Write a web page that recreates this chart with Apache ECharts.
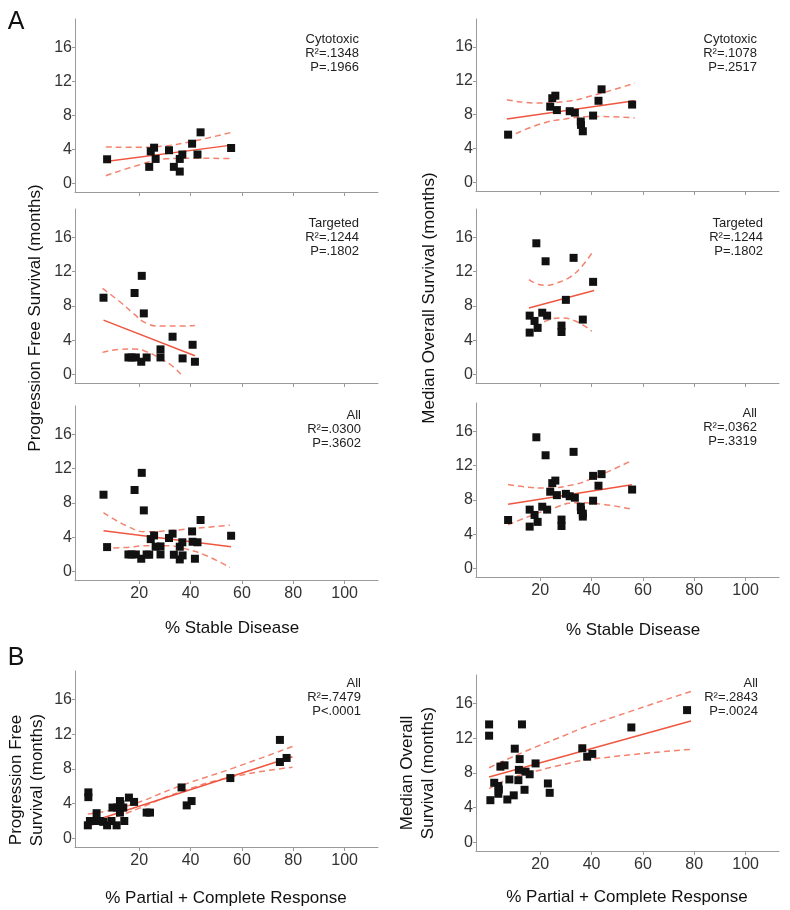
<!DOCTYPE html>
<html>
<head>
<meta charset="utf-8">
<script src="https://cdn.jsdelivr.net/npm/echarts@6/dist/echarts.min.js"></script>
<style>
  html, body { margin: 0; background: #fff; }
  #main { width: 790px; height: 910px; }
</style>
</head>
<body>
<div id="main"></div>
<script>
// points: [x %, y months]
const pfsCytotoxic = [[7.5,2.84],[23.9,1.95],[24.5,3.77],[25.8,4.2],[26.4,2.88],[31.6,3.9],[33.5,1.95],[35.8,1.4],[35.8,2.88],[36.8,3.4],[40.6,4.67],[42.7,3.4],[43.9,6.0],[55.8,4.16]];
const pfsTargeted = [[6.1,8.95],[15.8,1.98],[17.0,1.98],[18.2,9.5],[18.7,1.98],[20.8,1.48],[21.0,11.5],[21.8,7.12],[22.9,1.98],[28.3,2.92],[28.3,1.98],[33.0,4.4],[36.9,1.87],[40.8,3.46],[41.7,1.48]];
const osCytotoxic = [[7.5,5.65],[23.9,8.95],[24.7,9.95],[25.9,10.25],[26.5,8.55],[31.5,8.42],[33.5,8.25],[35.8,7.2],[35.9,6.8],[36.6,6.05],[40.6,7.9],[42.7,9.65],[43.9,11.0],[55.8,9.2]];
const osTargeted = [[15.9,6.86],[15.9,4.88],[17.8,6.24],[18.5,15.3],[19.0,5.43],[20.8,7.2],[22.1,13.2],[22.7,6.86],[28.3,5.7],[28.3,4.95],[30.0,8.7],[33.0,13.6],[36.6,6.4],[40.6,10.8]];
const pfsResponse = [[0.2,5.3],[0.2,4.75],[0,1.5],[0.8,2.0],[2.7,2.0],[3.4,2.9],[4.7,2.0],[6.0,1.9],[7.5,1.5],[9.2,2.0],[9.6,3.55],[11.2,1.5],[11.4,3.55],[12.5,4.3],[12.5,2.97],[12.7,3.94],[13.8,3.55],[14.2,2.0],[16.0,4.7],[18.0,4.2],[22.9,2.97],[24.2,2.97],[36.5,5.87],[38.5,3.8],[40.4,4.3],[55.5,6.95],[74.8,11.35],[74.8,8.8],[77.4,9.27]];
const osResponse = [[0.1,13.6],[0.1,12.3],[0.6,4.86],[2.1,6.87],[3.7,6.5],[3.9,6.1],[3.7,5.6],[4.5,8.73],[6.1,8.88],[7.2,4.94],[8.0,7.25],[9.7,5.42],[10.1,10.8],[12.0,9.6],[11.7,8.36],[11.5,7.17],[12.9,13.6],[13.9,6.06],[14.3,8.15],[15.9,7.85],[18.2,9.1],[23.0,6.79],[23.7,5.71],[36.4,10.85],[38.3,9.88],[40.3,10.2],[55.5,13.25],[77.2,15.25]];

// regression lines and 95% bands
const pfsCytoFit = [[7,2.57],[56,4.5]];
const pfsCytoUp = [[7,4.28],[20,4.24],[30,4.4],[40,4.9],[56,6.0]];
const pfsCytoLo = [[7,0.9],[20,2.18],[30.6,2.9],[40,2.96],[56,2.92]];
const osCytoFit = [[7,7.5],[56.8,9.65]];
const osCytoUp = [[7,9.77],[19.4,9.38],[29.7,9.57],[41.4,10.35],[56.8,11.72]];
const osCytoLo = [[7,5.27],[19.4,6.84],[29.7,7.5],[41.4,7.8],[56.8,7.62]];
const pfsTargFit = [[6.1,6.34],[41.7,2.18]];
const pfsTargUp = [[5.7,10.04],[12.5,8.48],[17.7,7.12],[22.9,5.95],[28.1,5.64],[35.8,5.64],[41.7,5.72]];
const pfsTargLo = [[5.7,2.57],[12.5,2.92],[17.7,2.96],[22.9,2.65],[28.1,1.87],[33.2,0.9],[36.5,-0.08]];
const osTargFit = [[15.6,7.75],[41,9.8]];
const osTargUp = [[15.6,11.05],[18.6,10.58],[22.5,10.39],[26.4,10.66],[31.6,11.36],[36.2,12.6],[40.1,14.15]];
const osTargLo = [[15.6,4.65],[19.9,5.81],[23.8,6.4],[27.7,6.59],[32.9,6.32],[40.1,5.04]];
const pfsAllFit = [[6.1,4.74],[55.8,2.87]];
const pfsAllUp = [[6.1,6.87],[15.1,5.32],[22.9,4.62],[30.6,4.74],[38.4,4.93],[55.3,5.4]];
const pfsAllLo = [[6.1,2.68],[15.1,2.8],[22.9,3.0],[30.6,3.0],[38.4,2.6],[46.2,1.83],[55.3,0.47]];
const osAllFit = [[7.5,7.48],[55.7,9.77]];
const osAllUp = [[7.5,9.8],[13.5,9.53],[22.6,9.38],[31.6,9.69],[39.4,10.39],[55.7,12.6]];
const osAllLo = [[7.5,5.08],[16.1,6.12],[23.9,6.9],[34.2,7.67],[44.5,7.48],[55.7,6.9]];
const pfsRespFit = [[0,1.8],[79.7,9.4]];
const pfsRespUp = [[0,2.8],[15,3.7],[36.5,6.1],[56.6,8.1],[79.7,10.6]];
const pfsRespLo = [[0,1.4],[15,2.9],[36.5,5.4],[56.6,7.1],[79.7,8.2]];
const osRespFit = [[0.1,7.53],[78.7,14.0]];
const osRespUp = [[0.1,8.6],[7.1,9.57],[16.1,10.73],[26.5,11.97],[39.4,13.5],[78.7,17.4]];
const osRespLo = [[0.1,6.18],[7.1,7.26],[16.1,8.03],[26.5,8.8],[39.4,9.57],[78.7,10.73]];

const xTicks = [20, 40, 60, 80, 100];
const yTicks = [0, 4, 8, 12, 16];

const FONT = '"Liberation Sans", Arial, sans-serif';
const fitColor = '#ef5640';
const bandColor = '#f3836f';
const axisColor = '#9a9a9a';

const panels = [
  { pts: pfsCytotoxic, fit: pfsCytoFit, up: pfsCytoUp, lo: pfsCytoLo, note: ['Cytotoxic', 'R²=.1348', 'P=.1966'], nx: 359, ny: 39, left: 75, top: 19, h: 173, xl: false },
  { pts: osCytotoxic, fit: osCytoFit, up: osCytoUp, lo: osCytoLo, note: ['Cytotoxic', 'R²=.1078', 'P=.2517'], nx: 757, ny: 39, left: 476, top: 19, h: 172, xl: false },
  { pts: pfsTargeted, fit: pfsTargFit, up: pfsTargUp, lo: pfsTargLo, note: ['Targeted', 'R²=.1244', 'P=.1802'], nx: 359, ny: 223, left: 75, top: 209, h: 174, xl: false },
  { pts: osTargeted, fit: osTargFit, up: osTargUp, lo: osTargLo, note: ['Targeted', 'R²=.1244', 'P=.1802'], nx: 763, ny: 223, left: 476, top: 209, h: 174, xl: false },
  { pts: pfsCytotoxic.concat(pfsTargeted), fit: pfsAllFit, up: pfsAllUp, lo: pfsAllLo, note: ['All', 'R²=.0300', 'P=.3602'], nx: 361, ny: 415, left: 75, top: 406, h: 174, xl: true },
  { pts: osCytotoxic.concat(osTargeted), fit: osAllFit, up: osAllUp, lo: osAllLo, note: ['All', 'R²=.0362', 'P=.3319'], nx: 757, ny: 413, left: 476, top: 403, h: 174, xl: true },
  { pts: pfsResponse, fit: pfsRespFit, up: pfsRespUp, lo: pfsRespLo, note: ['All', 'R²=.7479', 'P<.0001'], nx: 361, ny: 683, left: 75, top: 671, h: 176, xl: true },
  { pts: osResponse, fit: osRespFit, up: osRespUp, lo: osRespLo, note: ['All', 'R²=.2843', 'P=.0024'], nx: 758, ny: 683, left: 476, top: 675, h: 176, xl: true }
];

const grid = [], xAxis = [], yAxis = [], series = [], graphic = [];

panels.forEach(function (p, i) {
  grid.push({ left: p.left, top: p.top, width: 303, height: p.h });
  xAxis.push({
    gridIndex: i, type: 'value', min: -5, max: 113,
    axisLine: { onZero: false, lineStyle: { color: axisColor } },
    axisTick: { customValues: xTicks, length: 4, lineStyle: { color: axisColor } },
    axisLabel: { show: p.xl, customValues: xTicks, fontSize: 16, color: '#333', fontFamily: FONT, margin: 6 },
    splitLine: { show: false }
  });
  yAxis.push({
    gridIndex: i, type: 'value', min: -1, max: 19.3,
    axisLine: { show: true, onZero: false, lineStyle: { color: axisColor } },
    axisTick: { show: true, customValues: yTicks, length: 3, lineStyle: { color: axisColor } },
    axisLabel: { customValues: yTicks, fontSize: 16, color: '#333', fontFamily: FONT, margin: 3 },
    splitLine: { show: false }
  });
  const band = function (d) {
    return {
      type: 'line', xAxisIndex: i, yAxisIndex: i, data: d, smooth: true, symbol: 'none',
      lineStyle: { color: bandColor, width: 1.5, type: [6, 4] }, z: 2
    };
  };
  series.push(band(p.up), band(p.lo));
  series.push({
    type: 'line', xAxisIndex: i, yAxisIndex: i, data: p.fit, symbol: 'none',
    lineStyle: { color: fitColor, width: 1.5 }, z: 2
  });
  series.push({
    type: 'scatter', xAxisIndex: i, yAxisIndex: i, data: p.pts, symbol: 'rect', symbolSize: 8,
    itemStyle: { color: '#111', opacity: 1 }, z: 3
  });
  graphic.push({
    type: 'text', left: null, x: p.nx, y: p.ny - 7,
    style: { text: p.note.join('\n'), textAlign: 'right', textVerticalAlign: 'top', fontSize: 13, lineHeight: 14, fill: '#222', fontFamily: FONT }
  });
});

function label(text, x, y, size, rot) {
  return {
    type: 'text', x: x, y: y, rotation: rot || 0,
    style: { text: text, textAlign: 'center', textVerticalAlign: 'middle', fontSize: size, lineHeight: 21, fill: '#111', fontFamily: FONT }
  };
}

graphic.push(
  label('A', 16, 22, 25),
  label('B', 16, 658, 25),
  label('Progression Free Survival (months)', 35, 318, 17, Math.PI / 2),
  label('Median Overall Survival (months)', 429, 298, 17, Math.PI / 2),
  label('Progression Free\nSurvival (months)', 27, 780, 17, Math.PI / 2),
  label('Median Overall\nSurvival (months)', 418, 773, 17, Math.PI / 2),
  label('% Stable Disease', 232, 628, 17),
  label('% Stable Disease', 633, 630, 17),
  label('% Partial + Complete Response', 226, 898, 17),
  label('% Partial + Complete Response', 627, 897, 17)
);

const chart = echarts.init(document.getElementById('main'));
chart.setOption({
  animation: false,
  backgroundColor: '#fff',
  grid: grid,
  xAxis: xAxis,
  yAxis: yAxis,
  series: series,
  graphic: graphic
});
</script>
</body>
</html>
